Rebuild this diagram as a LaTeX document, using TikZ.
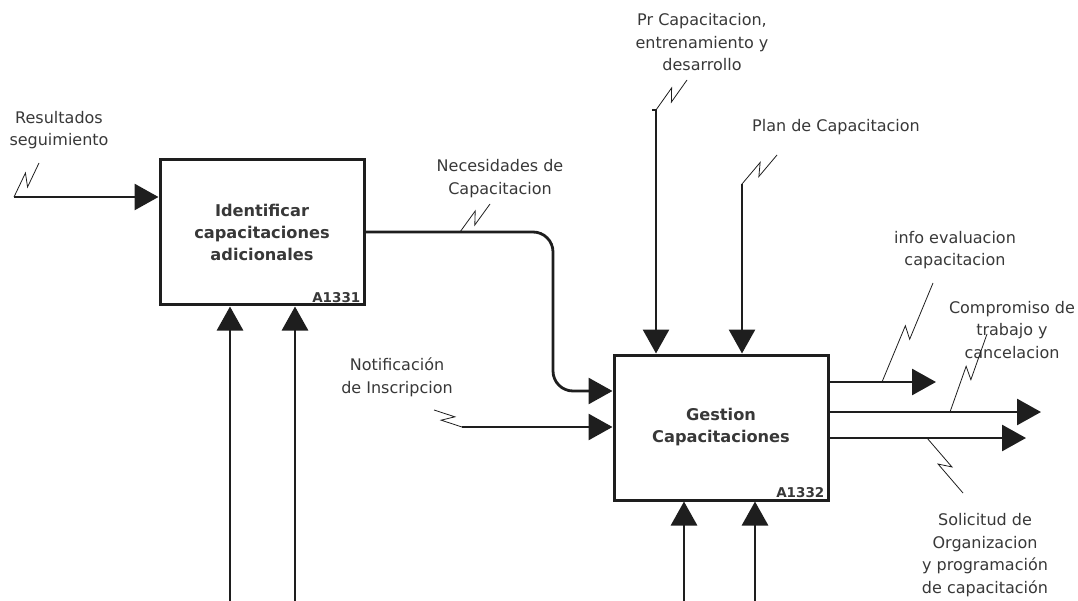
\documentclass[tikz,border=0pt]{standalone}
\usepackage{fontspec}
\setmainfont{DejaVu Sans}
\usetikzlibrary{arrows.meta,calc}
\definecolor{ink}{HTML}{1E1E1E}
\definecolor{txt}{HTML}{383838}
\begin{document}
\begin{tikzpicture}[x=1pt,y=-1pt,
  box/.style={draw=ink, line width=3pt, inner sep=0pt, align=center, text=txt,
    font=\fontsize{16.2}{22}\selectfont\bfseries},
  code/.style={inner sep=0pt, text=txt, font=\fontsize{13.5}{13.5}\selectfont\bfseries},
  arr/.style={draw=ink, line width=2.8pt, -{Triangle[length=24pt,width=26pt]}},
  lbl/.style={inner sep=0pt, align=center, text=txt, font=\fontsize{16}{22.5}\selectfont},
  zz/.style={draw=ink, line width=0.8pt, line join=miter,
    to path={-- ($(\tikztostart)!0.5!(\tikztotarget)!5pt!(\tikztotarget)!5pt!90:(\tikztotarget)$)
             -- ($(\tikztostart)!0.5!(\tikztotarget)!-5pt!(\tikztotarget)!5pt!-90:(\tikztotarget)$)
             -- (\tikztotarget)}}
]
\useasboundingbox (0,0) rectangle (1078,601);

% boxes
\node[box, minimum width=204pt, minimum height=145pt] (b1) at (262,232.5)
  {Identificar\\capacitaciones\\adicionales};
\node[box, minimum width=214pt, minimum height=145pt] (b2) at (721,427.5)
  {Gestion\\Capacitaciones};
\node[code, anchor=south east] (k1) at ($(b1.south east)+(-5,-4)$) {A1331};
\node[code, anchor=south east] (k2) at ($(b2.south east)+(-5,-4)$) {A1332};

% labels
\node[lbl] (tRes) at (59,130) {Resultados\\seguimiento};
\node[lbl] (tNec) at (500,178.5) {Necesidades de\\Capacitacion};
\node[lbl] (tNot) at (397,377.5) {Notificación\\de Inscripcion};
\node[lbl] (tPr) at (702,42.5) {Pr Capacitacion,\\entrenamiento y\\desarrollo};
\node[lbl] (tPl) at (836,127) {Plan de Capacitacion};
\node[lbl] (tInf) at (955,250) {info evaluacion\\capacitacion};
\node[lbl] (tCom) at (1012,330) {Compromiso de\\trabajo y\\cancelacion};
\node[lbl] (tSol) at (985,555) {Solicitud de\\Organizacion\\y programación\\de capacitación};

% coordinates
\coordinate (r0) at (14,197);
\coordinate (c1) at (230,601);
\coordinate (c2) at (295,601);
\coordinate (nA) at (553,232);
\coordinate (nB) at (553,391);
\coordinate (nt) at (462,427);
\coordinate (pr) at (656,110);
\coordinate (prs) at (652,110);
\coordinate (pl) at (742,184);
\coordinate (o1) at (936,382);
\coordinate (o2) at (1041,412);
\coordinate (o3) at (1026,438);
\coordinate (d1) at (684,601);
\coordinate (d2) at (755,601);

% arrows
\draw[arr] (r0) -- (r0 -| b1.west);
\draw[arr] (c1) -- (c1 |- b1.south);
\draw[arr] (c2) -- (c2 |- b1.south);
\draw[arr, rounded corners=20pt] (nA -| b1.east) -- (nA) -- (nB) -- (nB -| b2.west);
\draw[arr] (nt) -- (nt -| b2.west);
\draw[arr] (prs) -- (pr) -- (pr |- b2.north);
\draw[arr] (pl) -- (pl |- b2.north);
\draw[arr] (o1 -| b2.east) -- (o1);
\draw[arr] (o2 -| b2.east) -- (o2);
\draw[arr] (o3 -| b2.east) -- (o3);
\draw[arr] (d1) -- (d1 |- b2.south);
\draw[arr] (d2) -- (d2 |- b2.south);

% squiggles
\coordinate (zRes) at (39,163);
\coordinate (qNec) at (460,232);
\coordinate (zNec) at (490,204);
\coordinate (zNot) at (434,410);
\coordinate (zPr) at (687,80);
\coordinate (zPl) at (777,155);
\coordinate (qInf) at (882,382);
\coordinate (zInf) at (933,283);
\coordinate (qCom) at (950,412);
\coordinate (zCom) at (987,334);
\coordinate (qSol) at (927,438);
\coordinate (zSol) at (963,493);
\draw[zz] (r0) to (zRes);
\draw[zz] (qNec) to (zNec);
\draw[zz] (nt) to (zNot);
\draw[zz] (pr) to (zPr);
\draw[zz] (pl) to (zPl);
\draw[zz] (qInf) to (zInf);
\draw[zz] (qCom) to (zCom);
\draw[zz] (qSol) to (zSol);
\end{tikzpicture}
\end{document}
